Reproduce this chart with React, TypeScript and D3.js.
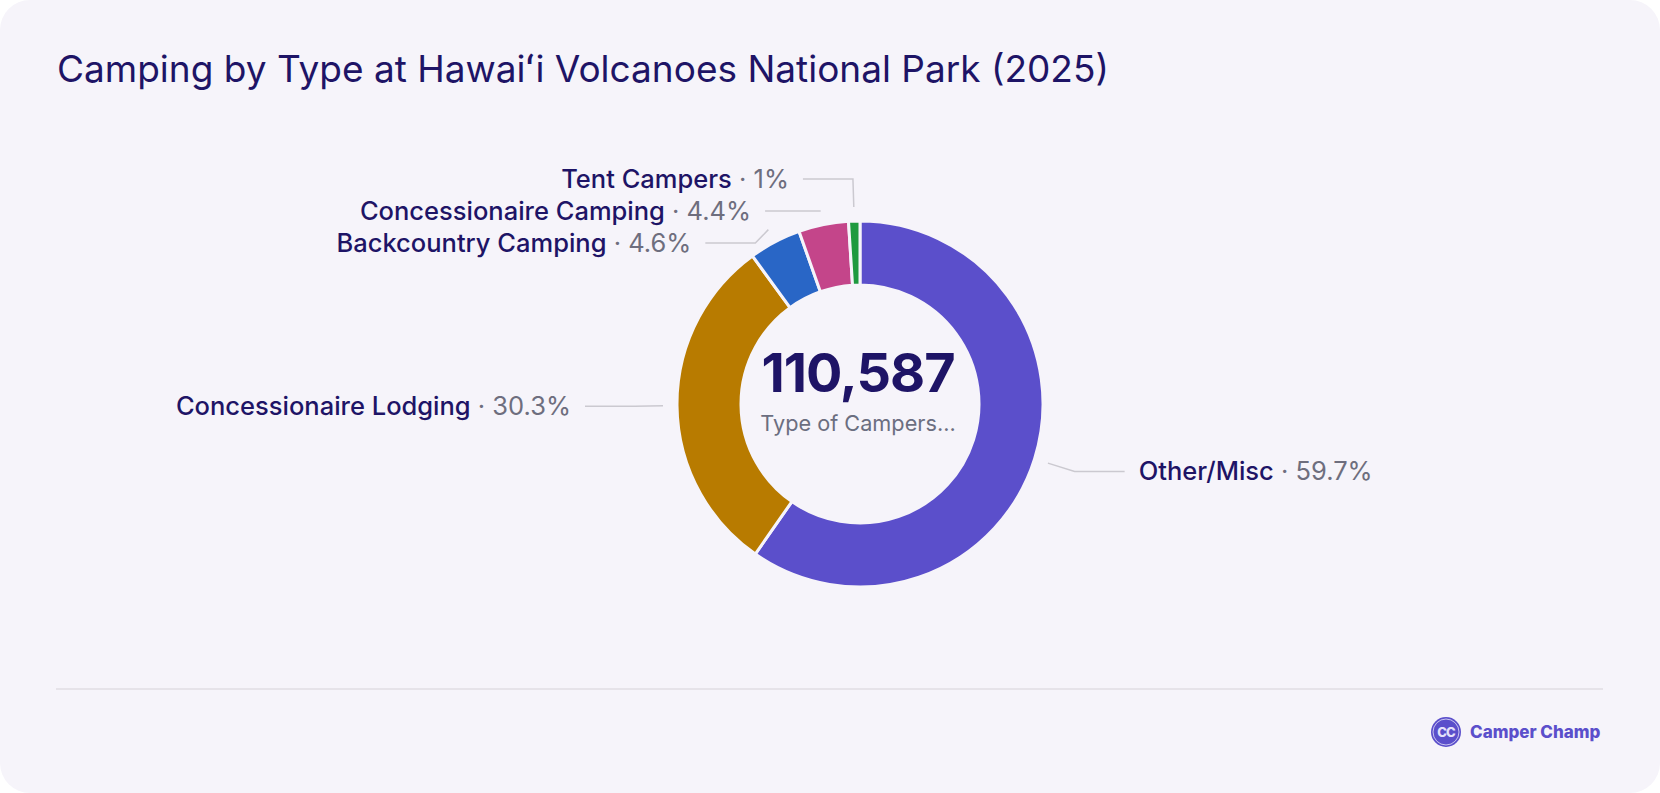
import React from "react";
import * as d3 from "d3";

const categories = ["Other/Misc", "Concessionaire Lodging", "Backcountry Camping", "Concessionaire Camping", "Tent Campers"];
const values = [66020, 33508, 5087, 4866, 1106];
const colors = ["#5B4FCB", "#B87B00", "#2966C6", "#C4458A", "#1F9A3F"];
const centerSubtitle = "Type of Campers...";
const title = "Camping by Type at Hawaiʻi Volcanoes National Park (2025)";
const brand = "Camper Champ";

const W = 1660;
const H = 793;
const FONT = "Inter, 'Open Sans', sans-serif";

export default function App() {
  const cx = 860;
  const cy = 404;
  const outerR = 183;
  const innerR = 119;
  const r1 = outerR + 14;
  const r2 = outerR + 42;
  const len2 = 50;
  const gap = 14;
  const spacing = 32;

  const total = d3.sum(values);
  const data = categories.map((c, i) => ({ name: c, value: values[i], color: colors[i] }));
  const pie = d3.pie<any>().value((d: any) => d.value).sort(null);
  const arcs = pie(data);
  const arcGen = d3.arc<any>().innerRadius(innerR).outerRadius(outerR);

  const fmtPct = (v: number) => {
    const p = Math.round((v / total) * 1000) / 10;
    return `${p}%`;
  };

  const labels = arcs.map((a: any) => {
    const mid = (a.startAngle + a.endAngle) / 2;
    const s = Math.sin(mid);
    const c = -Math.cos(mid);
    return {
      a,
      side: s >= 0 ? 1 : -1,
      p1: [s * r1, c * r1],
      p2: [s * r2, c * r2],
    };
  });
  [1, -1].forEach((side) => {
    const group = labels.filter((l) => l.side === side).sort((x, y) => x.p2[1] - y.p2[1]);
    for (let i = 1; i < group.length; i++) {
      if (group[i].p2[1] < group[i - 1].p2[1] + spacing) group[i].p2[1] = group[i - 1].p2[1] + spacing;
    }
  });

  return (
    <svg width={W} height={H} style={{ position: "absolute", left: 0, top: 0, display: "block" }}>
      <rect x={0} y={0} width={W} height={H} fill="#ffffff" />
      <rect x={0} y={0} width={W} height={H} rx={30} ry={30} fill="#F6F4FA" />
      <text x={57} y={82} fontFamily={FONT} fontSize={37} fill="#1E1466" fontWeight={400}>
        {title}
      </text>
      <g transform={`translate(${cx},${cy})`}>
        {arcs.map((a: any, i: number) => (
          <path key={i} d={arcGen(a) as string} fill={a.data.color} stroke="#F6F4FA" strokeWidth={3} strokeLinejoin="round" />
        ))}
        {labels.map((l, i) => {
          const p3 = [l.p2[0] + l.side * len2, l.p2[1]];
          return (
            <g key={i}>
              <polyline
                points={`${l.p1[0]},${l.p1[1]} ${l.p2[0]},${l.p2[1]} ${p3[0]},${p3[1]}`}
                fill="none"
                stroke="#CBC9D0"
                strokeWidth={1.5}
              />
              <text
                x={p3[0] + l.side * gap}
                y={p3[1]}
                dy="0.35em"
                textAnchor={l.side > 0 ? "start" : "end"}
                fontFamily={FONT}
                fontSize={25.5}
              >
                <tspan fill="#1E1466" fontWeight={500}>{l.a.data.name}</tspan>
                <tspan fill="#6E6E7E" fontWeight={400}>{` · ${fmtPct(l.a.data.value)}`}</tspan>
              </text>
            </g>
          );
        })}
        <text x={-2} y={-12} textAnchor="middle" fontFamily={FONT} fontWeight={700} fontSize={54} fill="#1E1466" letterSpacing={-1}>
          {d3.format(",")(total)}
        </text>
        <text x={-2} y={27} textAnchor="middle" fontFamily={FONT} fontSize={21.7} fill="#6B6E80">
          {centerSubtitle}
        </text>
      </g>
      <line x1={56} x2={1603} y1={689} y2={689} stroke="#E0DEE3" strokeWidth={1.5} />
      <g transform="translate(1446,732)">
        <circle r={15} fill="#5B4FCB" />
        <circle r={13} fill="none" stroke="#C9C4F0" strokeWidth={1} />
        <text x={0} y={5} textAnchor="middle" fontFamily={FONT} fontWeight={800} fontSize={13} fill="#E4E1FA" letterSpacing={-1}>
          CC
        </text>
      </g>
      <text x={1470} y={738} fontFamily={FONT} fontWeight={800} fontSize={17} fill="#5B4FCB">
        {brand}
      </text>
    </svg>
  );
}
